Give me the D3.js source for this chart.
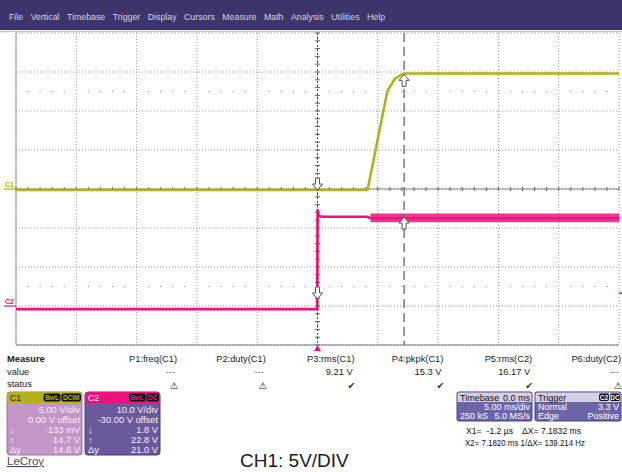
<!DOCTYPE html>
<html>
<head>
<meta charset="utf-8">
<script src="https://cdn.jsdelivr.net/npm/d3@7"></script>
<style>
  body { margin: 0; background: #fff; }
  svg { display: block; font-family: "Liberation Sans", Arial, sans-serif; }
</style>
</head>
<body>
<svg id="scope" width="622" height="472"></svg>
<script>
// Data
var menuItems = ["File", "Vertical", "Timebase", "Trigger", "Display", "Cursors", "Measure", "Math", "Analysis", "Utilities", "Help"];

var timePerDiv = 5;          // ms/div
var timeDivs = 10;
var voltDivs = 8;

// C1 trace (ms, V)
var c1Time  = [-25, 4.15, 5.8, 6.4, 6.9, 7.2, 25];
var c1Volts = [-0.13, -0.13, 12.6, 14.1, 14.6, 14.8, 14.8];
// C2 trace (ms, V)
var c2Time  = [-25, -0.02, 0, 0.01, 0.03, 0.15, 0.4, 4.1, 4.4, 25];
var c2Volts = [-0.8, -0.8, 19.0, 24.8, 23.6, 23.1, 22.9, 22.9, 22.5, 22.5];
// C2 noise band after C1 edge (ms, V)
var c2NoiseTime = [4.4, 25];
var c2NoiseLow  = [21.5, 21.5];
var c2NoiseHigh = [23.7, 23.7];

var chNames = ["C1", "C2"];
var chVoltsPerDiv = [5, 10];
var chOffset = [0, -30];
var chBadges = [["BwL", "DCIM"], ["BwL", "DC"]];
var chAtX1 = [-0.133, 1.8];   // V at cursor X1
var chAtX2 = [14.7, 22.8];    // V at cursor X2
var chDeltaY = [14.8, 21.0];

var cursorX1 = -0.0012;  // ms
var cursorX2 = 7.182;    // ms
var trigLevel = 3.3;     // V on C2

var measureNames  = ["P1:freq(C1)", "P2:duty(C1)", "P3:rms(C1)", "P4:pkpk(C1)", "P5:rms(C2)", "P6:duty(C2)"];
var measureValues = ["---", "---", "9.21 V", "15.3 V", "16.17 V", "---"];
var measureOk     = [false, false, true, true, true, false];

var c1Color = "#b3b01a", c2Color = "#f0127c";
var svg = d3.select("#scope");

// menu bar
svg.append("rect").attr("width", 622).attr("height", 30).attr("fill", "#3d3469");
var menu = svg.append("g").attr("font-size", 8.8).attr("fill", "#d8d6e6");
var widths = menuItems.map(function(m) {
  var t = menu.append("text").attr("x", 50).attr("y", 20).text(m);
  var w = t.node().getComputedTextLength();
  t.remove();
  return w;
});
var gap = (367 - 9 - d3.sum(widths.slice(0, -1))) / (menuItems.length - 1);
var mx = 9;
menuItems.forEach(function(m, i) {
  menu.append("text").attr("x", mx).attr("y", 20).text(m);
  mx += widths[i] + gap;
});
svg.append("line").attr("x1", 0).attr("x2", 622).attr("y1", 31.5).attr("y2", 31.5)
   .attr("stroke", "#c4c2d2").attr("stroke-width", 1.5);

// scales
var plotLeft = 16, plotRight = 619, plotTop = 33, plotBottom = 345;
var x = d3.scaleLinear().domain([-timePerDiv * timeDivs / 2, timePerDiv * timeDivs / 2]).range([plotLeft, plotRight]);
var y = d3.scaleLinear().domain([-voltDivs / 2, voltDivs / 2]).range([plotBottom, plotTop]);
function toDiv(v, ch) { return (v + chOffset[ch]) / chVoltsPerDiv[ch]; }

// grid
var grid = svg.append("g");
d3.range(-25, 26, 5).forEach(function(t) {
  grid.append("line").attr("x1", x(t)).attr("x2", x(t)).attr("y1", plotTop).attr("y2", plotBottom)
      .attr("stroke", "#9a9a9a").attr("stroke-dasharray", "1,2");
});
d3.range(-4, 5, 1).forEach(function(d) {
  grid.append("line").attr("x1", plotLeft).attr("x2", plotRight).attr("y1", y(d)).attr("y2", y(d))
      .attr("stroke", "#9a9a9a").attr("stroke-dasharray", "1,2");
});
grid.append("line").attr("x1", plotLeft).attr("x2", plotLeft).attr("y1", plotTop).attr("y2", plotBottom)
    .attr("stroke", "#a8a8a8").attr("stroke-width", 1.2);
grid.append("line").attr("x1", plotLeft).attr("x2", plotRight).attr("y1", plotBottom).attr("y2", plotBottom)
    .attr("stroke", "#777");
// dot rows at +-2.5 div
[-2.5, 2.5].forEach(function(d) {
  d3.range(-25, 25, 5).forEach(function(t) {
    [0.2, 0.4, 0.6, 0.8].forEach(function(f) {
      grid.append("rect").attr("x", x(t + f * timePerDiv) - 0.6).attr("y", y(d) - 0.6)
          .attr("width", 1.2).attr("height", 1.2).attr("fill", "#999");
    });
  });
});
// centre axes with minor ticks
grid.append("line").attr("x1", plotLeft).attr("x2", plotRight).attr("y1", y(0)).attr("y2", y(0))
    .attr("stroke", "#888");
d3.range(-25, 25.01, 1).forEach(function(t) {
  grid.append("line").attr("x1", x(t)).attr("x2", x(t)).attr("y1", y(0) - 2).attr("y2", y(0) + 2)
      .attr("stroke", "#666");
});
d3.range(-4, 4.01, 0.2).forEach(function(d) {
  grid.append("line").attr("x1", x(0) - 2.5).attr("x2", x(0) + 2.5).attr("y1", y(d)).attr("y2", y(d))
      .attr("stroke", "#666");
});

// traces
var line = function(ch) {
  return d3.line().x(function(d) { return x(d[0]); }).y(function(d) { return y(toDiv(d[1], ch)); });
};
svg.append("path").datum(d3.zip(c2Time, c2Volts)).attr("d", line(1))
   .attr("fill", "none").attr("stroke", c2Color).attr("stroke-width", 2.6);
svg.append("path").datum(d3.zip(c2NoiseTime, c2NoiseLow, c2NoiseHigh))
   .attr("d", d3.area().x(function(d) { return x(d[0]); })
     .y0(function(d) { return y(toDiv(d[1], 1)); }).y1(function(d) { return y(toDiv(d[2], 1)); }))
   .attr("fill", c2Color).attr("opacity", 0.85);
svg.append("path").datum(d3.zip(c1Time, c1Volts)).attr("d", line(0))
   .attr("fill", "none").attr("stroke", c1Color).attr("stroke-width", 2.6);

// cursors
svg.append("line").attr("x1", x(cursorX1)).attr("x2", x(cursorX1)).attr("y1", plotTop).attr("y2", plotBottom)
   .attr("stroke", "#444").attr("stroke-dasharray", "2,2");
svg.append("line").attr("x1", x(cursorX2)).attr("x2", x(cursorX2)).attr("y1", plotTop).attr("y2", plotBottom)
   .attr("stroke", "#707070").attr("stroke-width", 1.4).attr("stroke-dasharray", "9,5");
var arrowPath = "M0,0 L-5,-6 L-2,-6 L-2,-12 L2,-12 L2,-6 L5,-6 Z";
chNames.forEach(function(n, ch) {
  svg.append("path").attr("d", arrowPath)
     .attr("transform", "translate(" + x(cursorX1) + "," + y(toDiv(chAtX1[ch], ch)) + ")")
     .attr("fill", "#fff").attr("stroke", "#555");
  svg.append("path").attr("d", arrowPath)
     .attr("transform", "translate(" + x(cursorX2) + "," + y(toDiv(chAtX2[ch], ch)) + ") scale(1,-1)")
     .attr("fill", "#fff").attr("stroke", "#555");
});

// channel ground markers
chNames.forEach(function(n, ch) {
  var gy = y(toDiv(0, ch));
  var col = ch === 0 ? c1Color : c2Color;
  svg.append("text").attr("x", 5).attr("y", gy - 2).attr("font-size", 7).attr("font-weight", "bold")
     .attr("fill", col).text(n);
  svg.append("line").attr("x1", 4).attr("x2", plotLeft).attr("y1", gy).attr("y2", gy)
     .attr("stroke", col).attr("stroke-width", 1.2);
});
// trigger markers
svg.append("path").attr("d", "M-3.5,6 L0,0 L3.5,6 Z").attr("transform", "translate(" + x(0) + "," + plotBottom + ")")
   .attr("fill", c2Color);
svg.append("line").attr("x1", plotRight).attr("x2", 622).attr("y1", y(toDiv(trigLevel, 1))).attr("y2", y(toDiv(trigLevel, 1)))
   .attr("stroke", c2Color).attr("stroke-width", 1.5);

// measure table
var meas = svg.append("g").attr("font-size", 9.3).attr("fill", "#222");
meas.append("text").attr("x", 7).attr("y", 362).attr("font-weight", "bold").text("Measure");
meas.append("text").attr("x", 7).attr("y", 375).text("value");
meas.append("text").attr("x", 7).attr("y", 387).text("status");
var colEdge = d3.scaleLinear().domain([0, 5]).range([177, 621]);
measureNames.forEach(function(n, i) {
  meas.append("text").attr("x", colEdge(i)).attr("y", 362).attr("text-anchor", "end").text(n);
  meas.append("text").attr("x", colEdge(i) - 2).attr("y", 375).attr("text-anchor", "end")
      .attr("fill", measureValues[i] === "---" ? "#777" : "#222").text(measureValues[i]);
  meas.append("text").attr("x", colEdge(i) - 3).attr("y", 389).attr("text-anchor", "middle")
      .attr("font-family", "DejaVu Sans").attr("font-size", 9.5)
      .attr("fill", "#333").text(measureOk[i] ? "\u2714" : "\u26A0");
});

// channel descriptor boxes
function fmt2(v) { return d3.format(".2f")(v); }
chNames.forEach(function(n, ch) {
  var bx = 7 + ch * 78, by = 392, bw = 75, bh = 63;
  var g = svg.append("g").attr("transform", "translate(" + bx + "," + by + ")");
  g.append("rect").attr("width", bw).attr("height", bh).attr("rx", 3)
   .attr("fill", ch === 0 ? "#c496c8" : "#6a5a9c").attr("stroke", ch === 0 ? "#9c76a2" : "#4a3d7a");
  g.append("path").attr("d", "M0,11 V3 Q0,0 3,0 H" + (bw - 3) + " Q" + bw + ",0 " + bw + ",3 V11 Z")
   .attr("fill", ch === 0 ? c1Color : c2Color);
  g.append("text").attr("x", 3).attr("y", 9).attr("font-size", 8.5)
   .attr("fill", ch === 0 ? "#222" : "#fff").text(n);
  var bxr = bw - 1;
  chBadges[ch].slice().reverse().forEach(function(b) {
    var t = g.append("text").attr("x", 20).attr("y", 9).attr("font-size", 6.5).attr("font-weight", "bold").text(b);
    var w = t.node().getComputedTextLength() + 3;
    t.remove();
    g.append("rect").attr("x", bxr - w).attr("y", 1.5).attr("width", w).attr("height", 8).attr("rx", 2).attr("fill", "#111");
    g.append("text").attr("x", bxr - w / 2).attr("y", 8).attr("text-anchor", "middle")
     .attr("font-size", 6.5).attr("font-weight", "bold").attr("fill", ch === 0 ? c1Color : c2Color).text(b);
    bxr -= w + 1;
  });
  var lines = [
    ["", (chVoltsPerDiv[ch] >= 10 ? d3.format(".1f")(chVoltsPerDiv[ch]) : fmt2(chVoltsPerDiv[ch])) + " V/div"],
    ["", fmt2(chOffset[ch]) + " V offset"],
    ["\u2193", Math.abs(chAtX1[ch]) < 1 ? Math.round(chAtX1[ch] * 1000) + " mV" : d3.format(".1f")(chAtX1[ch]) + " V"],
    ["\u2191", d3.format(".1f")(chAtX2[ch]) + " V"],
    ["\u0394y", d3.format(".1f")(chDeltaY[ch]) + " V"]
  ];
  lines.forEach(function(l, j) {
    var ly = 21 + j * 10;
    g.append("text").attr("x", 3).attr("y", ly).attr("font-size", 9.3).attr("fill", "#f6f0f8").text(l[0]);
    g.append("text").attr("x", bw - 2).attr("y", ly).attr("text-anchor", "end").attr("font-size", 9.3)
     .attr("fill", "#f6f0f8").text(l[1].replace("\u2212", "-"));
  });
});

// timebase and trigger boxes
function infoBox(bx, bw, header, headerRight, badges, rows) {
  var g = svg.append("g").attr("transform", "translate(" + bx + ",392)");
  g.append("rect").attr("width", bw).attr("height", 29).attr("rx", 2).attr("fill", "#6b64a8").attr("stroke", "#474184");
  g.append("path").attr("d", "M0.5,10 V2.5 Q0.5,0.5 2.5,0.5 H" + (bw - 2.5) + " Q" + (bw - 0.5) + ",0.5 " + (bw - 0.5) + ",2.5 V10 Z")
   .attr("fill", "#d3d0e4");
  g.append("text").attr("x", 3).attr("y", 8.5).attr("font-size", 9).attr("fill", "#111").text(header);
  if (headerRight) g.append("text").attr("x", bw - 2).attr("y", 8.5).attr("text-anchor", "end")
     .attr("font-size", 9).attr("fill", "#111").text(headerRight);
  var bxr = bw - 1;
  (badges || []).slice().reverse().forEach(function(b) {
    g.append("rect").attr("x", bxr - 10).attr("y", 1.5).attr("width", 10).attr("height", 7.5).attr("rx", 2).attr("fill", "#111");
    g.append("text").attr("x", bxr - 5).attr("y", 7.8).attr("text-anchor", "middle").attr("font-size", 6.5)
     .attr("font-weight", "bold").attr("fill", "#fff").text(b);
    bxr -= 11;
  });
  rows.forEach(function(r, j) {
    var ry = 18 + j * 9;
    g.append("text").attr("x", 3).attr("y", ry).attr("font-size", 9).attr("fill", "#fff").text(r[0]);
    g.append("text").attr("x", bw - 2).attr("y", ry).attr("text-anchor", "end").attr("font-size", 9).attr("fill", "#fff").text(r[1]);
  });
}
infoBox(457, 75, "Timebase", "0.0 ms", null, [["", timePerDiv.toFixed(2) + " ms/div"], ["250 kS", "5.0 MS/s"]]);
infoBox(535, 86, "Trigger", null, ["C2", "DC"], [["Normal", trigLevel.toFixed(1) + " V"], ["Edge", "Positive"]]);

// cursor readout
var cur = svg.append("g").attr("font-size", 8.6).attr("fill", "#111");
cur.append("text").attr("x", 466).attr("y", 434).text("X1=");
cur.append("text").attr("x", 513).attr("y", 434).attr("text-anchor", "end").text("-1.2 \u00B5s");
cur.append("text").attr("x", 522).attr("y", 434).text("\u0394X=  " + (cursorX2 - cursorX1).toFixed(4) + " ms");
cur.append("text").attr("x", 465).attr("y", 446).attr("textLength", 120).attr("lengthAdjust", "spacingAndGlyphs")
   .text("X2= " + cursorX2.toFixed(4) + " ms 1/\u0394X= " + (1000 / (cursorX2 - cursorX1)).toFixed(3) + " Hz");

// footer
svg.append("text").attr("x", 7).attr("y", 465).attr("font-size", 11.5).attr("fill", "#4a4a5a")
   .attr("text-decoration", "underline").text("LeCroy");
svg.append("text").attr("x", 240).attr("y", 467).attr("font-size", 19).attr("fill", "#1a1a1a").text("CH1: 5V/DIV");
</script>
</body>
</html>
